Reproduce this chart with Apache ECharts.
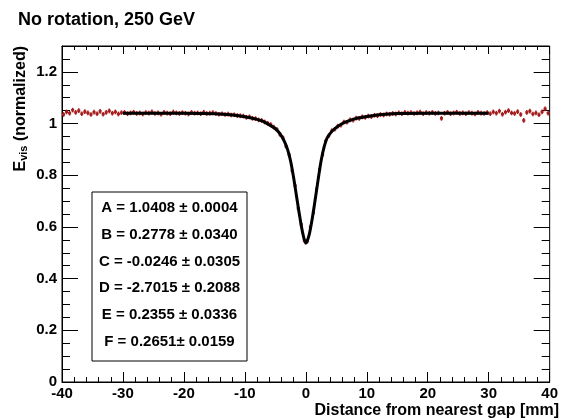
<!DOCTYPE html>
<html>
<head>
<meta charset="utf-8">
<title>No rotation, 250 GeV</title>
<script src="https://cdn.jsdelivr.net/npm/echarts@6.0.0/dist/echarts.min.js"></script>
<style>
  html, body { margin: 0; padding: 0; background: #fff; }
  #main { width: 561px; height: 419px; }
</style>
</head>
<body>
<div id="main"></div>
<script>
// histogram binning (0.5 mm bins from -40 to 40)
var binLow = -40;
var binWidth = 0.5;
var dataError = 0.009;

var dataValues = [
  // -40 .. -30
  1.035, 1.045, 1.040, 1.052, 1.043, 1.050, 1.038, 1.046, 1.041, 1.035,
  1.044, 1.038, 1.047, 1.036, 1.043, 1.049, 1.040, 1.045, 1.037, 1.042,
  // -30 .. -15
  1.043, 1.038, 1.041, 1.044, 1.039, 1.041, 1.037, 1.042, 1.040, 1.045,
  1.039, 1.041, 1.036, 1.043, 1.040, 1.038, 1.044, 1.041, 1.039, 1.042,
  1.040, 1.037, 1.043, 1.040, 1.041, 1.038, 1.044, 1.039, 1.040, 1.042,
  // -15 .. -10
  1.039, 1.036, 1.038, 1.035, 1.037, 1.033, 1.034, 1.031, 1.030, 1.029,
  // -10 .. -5
  1.024, 1.026, 1.020, 1.019, 1.014, 1.012, 1.006, 1.001, 0.996, 0.986,
  // -5 .. 0
  0.978, 0.958, 0.945, 0.912, 0.880, 0.818, 0.760, 0.672, 0.610, 0.548,
  // 0 .. 5
  0.545, 0.600, 0.655, 0.745, 0.822, 0.880, 0.932, 0.952, 0.972, 0.978,
  // 5 .. 10
  0.990, 0.994, 1.006, 1.005, 1.014, 1.013, 1.021, 1.020, 1.026, 1.024,
  // 10 .. 15
  1.029, 1.027, 1.032, 1.030, 1.035, 1.033, 1.037, 1.036, 1.039, 1.037,
  // 15 .. 30
  1.041, 1.038, 1.043, 1.040, 1.042, 1.039, 1.041, 1.044, 1.038, 1.042,
  1.040, 1.043, 1.039, 1.041, 1.020, 1.040, 1.043, 1.038, 1.041, 1.044,
  1.039, 1.041, 1.038, 1.042, 1.040, 1.037, 1.043, 1.040, 1.039, 1.042,
  // 30 .. 40
  1.038, 1.045, 1.040, 1.048, 1.036, 1.044, 1.050, 1.041, 1.039, 1.046,
  1.035, 1.012, 1.043, 1.048, 1.037, 1.041, 1.034, 1.045, 1.057, 1.040
];

// fit curve, points
var fitX = [-30, -25, -20, -15, -12, -10, -8, -7, -6, -5, -4.5, -4, -3.5, -3, -2.5, -2, -1.5, -1, -0.5, 0,
            0.5, 1, 1.5, 2, 2.5, 3, 3.5, 4, 4.5, 5, 6, 7, 8, 10, 12, 15, 20, 25, 30];
var fitY = [1.040, 1.040, 1.040, 1.038, 1.033, 1.026, 1.016, 1.008, 0.995, 0.980, 0.968, 0.952, 0.930, 0.900, 0.855, 0.790, 0.715, 0.640, 0.575, 0.537,
            0.565, 0.625, 0.700, 0.780, 0.855, 0.910, 0.945, 0.962, 0.975, 0.985, 1.000, 1.010, 1.018, 1.027, 1.034, 1.039, 1.040, 1.040, 1.040];

// fit parameters
var parNames = ['A', 'B', 'C', 'D', 'E', 'F'];
var parValues = ['1.0408', '0.2778', '-0.0246', '-2.7015', '0.2355', '0.2651'];
var parErrors = ['0.0004', '0.0340', '0.0305', '0.2088', '0.0336', '0.0159'];

var FONT = '"Liberation Sans", Arial, Helvetica, sans-serif';
var RED = '#a51d1d';

var chart = echarts.init(document.getElementById('main'));

var dataPoints = dataValues.map(function (v, i) {
  return [binLow + binWidth * (i + 0.5), v];
});
var fitPoints = fitX.map(function (x, i) {
  return [x, fitY[i]];
});

// legend box with the fit results
var boxLeft = 92, boxTop = 192, boxW = 155, boxH = 169;
var legendItems = [{
  type: 'rect',
  shape: { x: boxLeft, y: boxTop, width: boxW, height: boxH },
  style: { fill: '#fff', stroke: '#000', lineWidth: 1 },
  z: 10
}];
parNames.forEach(function (n, i) {
  legendItems.push({
    type: 'text',
    x: boxLeft + boxW / 2,
    y: 208 + i * 26.7,
    z: 11,
    style: {
      text: n + ' = ' + parValues[i] + (i === 5 ? '\u00b1 ' : ' \u00b1 ') + parErrors[i],
      font: 'bold 15px ' + FONT,
      fill: '#000',
      align: 'center',
      verticalAlign: 'middle'
    }
  });
});

function majorY(pos) {
  return {
    type: 'value', min: 0, max: 1.3, interval: 0.2, position: pos,
    axisLine: { show: pos === 'left', onZero: false, lineStyle: { color: '#000', width: 1 } },
    axisTick: { show: true, inside: true, length: 16, lineStyle: { color: '#000' } },
    axisLabel: {
      show: pos === 'left', margin: 5, color: '#000', fontSize: 15, fontWeight: 'bold', fontFamily: FONT,
      formatter: function (v) { return v > 1.25 ? '' : String(+v.toFixed(1)); }
    },
    splitLine: { show: false }
  };
}
function minorY(pos) {
  return {
    type: 'value', min: 0, max: 1.3, interval: 0.05, position: pos,
    axisLine: { show: false, onZero: false },
    axisTick: { show: true, inside: true, length: 8, lineStyle: { color: '#000' } },
    axisLabel: { show: false },
    splitLine: { show: false }
  };
}

var option = {
  animation: false,
  backgroundColor: '#fff',
  title: {
    text: 'No rotation, 250 GeV',
    left: 13, top: 6,
    textStyle: { fontSize: 18, fontWeight: 'bold', color: '#000', fontFamily: FONT }
  },
  grid: {
    left: 62, right: 3, top: 46, bottom: 37,
    show: true, borderColor: '#000', borderWidth: 1, backgroundColor: 'transparent'
  },
  xAxis: [{
    type: 'value', min: -40, max: 40, interval: 10, position: 'bottom',
    axisLine: { onZero: false, lineStyle: { color: '#000', width: 1 } },
    axisTick: { inside: true, length: 10, lineStyle: { color: '#000' } },
    minorTick: { show: true, splitNumber: 5, length: 5, lineStyle: { color: '#000' } },
    axisLabel: { margin: 4, color: '#000', fontSize: 15, fontWeight: 'bold', fontFamily: FONT },
    splitLine: { show: false }
  }, {
    type: 'value', min: -40, max: 40, interval: 10, position: 'top',
    axisLine: { onZero: false, lineStyle: { color: '#000', width: 1 } },
    axisTick: { inside: true, length: 8, lineStyle: { color: '#000' } },
    minorTick: { show: true, splitNumber: 5, length: 4, lineStyle: { color: '#000' } },
    axisLabel: { show: false },
    splitLine: { show: false }
  }],
  yAxis: [majorY('left'), minorY('left'), majorY('right'), minorY('right')],
  graphic: [{
    type: 'text',
    x: 20, y: 46,
    rotation: Math.PI / 2,
    style: {
      text: '{e|E}{s|vis}{n| (normalized)}',
      align: 'right',
      verticalAlign: 'middle',
      fill: '#000',
      rich: {
        e: { fontSize: 16, fontWeight: 'bold', fontFamily: FONT, lineHeight: 18, verticalAlign: 'bottom' },
        s: { fontSize: 11, fontWeight: 'bold', fontFamily: FONT, lineHeight: 18, verticalAlign: 'bottom', padding: [6, 0, 0, 0] },
        n: { fontSize: 16, fontWeight: 'bold', fontFamily: FONT, lineHeight: 18, verticalAlign: 'bottom' }
      }
    }
  }, {
    type: 'text',
    x: 559, y: 411,
    style: {
      text: 'Distance from nearest gap [mm]',
      font: 'bold 16px ' + FONT,
      fill: '#000',
      align: 'right',
      verticalAlign: 'middle'
    }
  }].concat(legendItems),
  series: [{
    name: 'data',
    type: 'custom',
    xAxisIndex: 0,
    yAxisIndex: 0,
    z: 3,
    renderItem: function (params, api) {
      var x = api.value(0), y = api.value(1);
      var a = api.coord([x - binWidth / 2, y]);
      var b = api.coord([x + binWidth / 2, y]);
      var hi = api.coord([x, y + dataError]);
      var lo = api.coord([x, y - dataError]);
      return {
        type: 'group',
        children: [
          { type: 'line', shape: { x1: a[0], y1: a[1], x2: b[0], y2: b[1] }, style: { stroke: RED, lineWidth: 2.5 } },
          { type: 'line', shape: { x1: hi[0], y1: hi[1], x2: lo[0], y2: lo[1] }, style: { stroke: RED, lineWidth: 1.5 } }
        ]
      };
    },
    data: dataPoints
  }, {
    name: 'fit',
    type: 'line',
    xAxisIndex: 0,
    yAxisIndex: 0,
    z: 4,
    smooth: 0.3,
    showSymbol: false,
    symbol: 'none',
    lineStyle: { color: '#000', width: 3 },
    data: fitPoints
  }]
};

chart.setOption(option);
</script>
</body>
</html>
